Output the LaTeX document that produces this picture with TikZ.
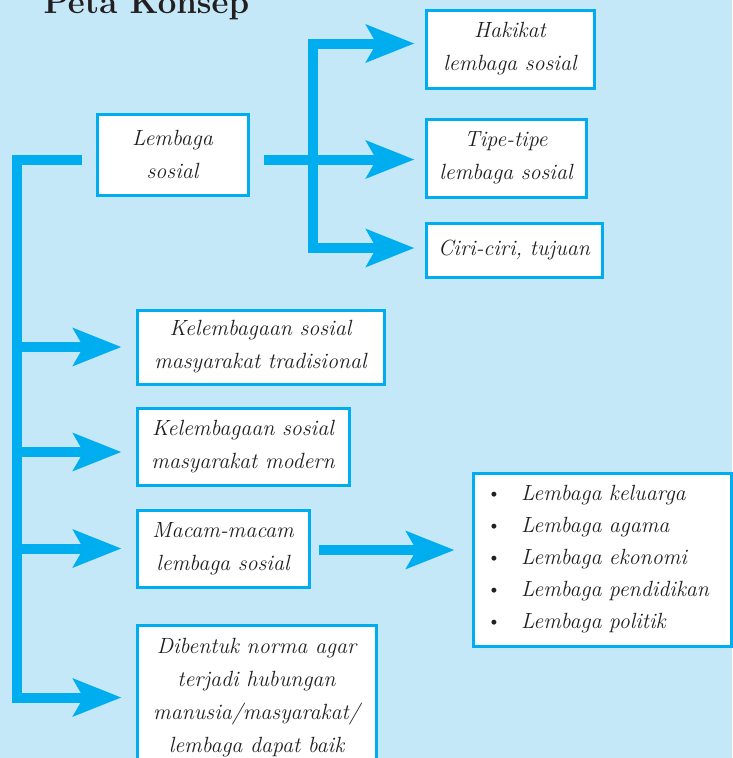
\documentclass[tikz,border=0pt]{standalone}
\usepackage{fontspec}
\usetikzlibrary{arrows.meta}
\definecolor{bgblue}{HTML}{C5E8F8}
\definecolor{arrblue}{HTML}{00AEEF}
\definecolor{txt}{HTML}{231F20}
\tikzset{
  box/.style={draw=arrblue, line width=3pt, fill=white, align=center, inner sep=0pt,
    text=txt, font=\fontsize{22}{33}\selectfont\itshape},
  arr/.style={draw=arrblue, line width=10pt, line join=miter,
    -{Stealth[length=48pt,width=37pt,inset=10pt]}},
  bar/.style={draw=arrblue, line width=10pt, line join=miter}
}
\begin{document}
\begin{tikzpicture}[x=1pt,y=-1pt]
\fill[bgblue] (0,0) rectangle (732,758);
\useasboundingbox (0,0) rectangle (732,758);
\node[anchor=base west, text=txt, font=\fontsize{33}{40}\selectfont\bfseries] (title) at (40,13) {Peta Konsep};

\node[box, minimum width=151pt, minimum height=81pt] (b1) at (172.5,154.5) {Lembaga\\sosial};
\node[box, minimum width=168pt, minimum height=78pt] (b2) at (510,49) {Hakikat\\lembaga sosial};
\node[box, minimum width=160pt, minimum height=78pt] (b3) at (506,158) {Tipe-tipe\\lembaga sosial};
\node[box, minimum width=176pt, minimum height=54pt] (b4) at (514,250) {Ciri-ciri, tujuan};
\node[box, minimum width=247pt, minimum height=74pt] (b5) at (260.5,347) {Kelembagaan sosial\\masyarakat tradisional};
\node[box, minimum width=212pt, minimum height=77pt] (b6) at (243,446.5) {Kelembagaan sosial\\masyarakat modern};
\node[box, minimum width=172pt, minimum height=77pt] (b7) at (223,548.5) {Macam-macam\\lembaga sosial};
\node[box, align=left, text width=232pt, inner xsep=13pt, minimum height=173pt, font=\fontsize{22}{32}\selectfont] (b8) at (602,559.5)
  {\makebox[35pt][l]{\textbullet}\textit{Lembaga keluarga}\\
   \makebox[35pt][l]{\textbullet}\textit{Lembaga agama}\\
   \makebox[35pt][l]{\textbullet}\textit{Lembaga ekonomi}\\
   \makebox[35pt][l]{\textbullet}\textit{Lembaga pendidikan}\\
   \makebox[35pt][l]{\textbullet}\textit{Lembaga politik}};
\node[box, minimum width=239pt, minimum height=145pt] (b9) at (256.5,697.5) {Dibentuk norma agar\\terjadi hubungan\\manusia/masyarakat/\\lembaga dapat baik};

% top tree
\coordinate (vx) at (313,0);
\coordinate (t2) at ([xshift=-10pt,yshift=5.5pt]b2.west);
\coordinate (t3) at ([xshift=-10pt,yshift=-1.5pt]b3.west);
\coordinate (t4) at ([xshift=-10pt,yshift=2pt]b4.west);
\coordinate (s3) at ([xshift=14pt]b1.east |- t3);
\draw[arr] (s3) -- (t3);
\draw[arr, {Stealth[length=48pt,width=37pt,inset=10pt]}-{Stealth[length=48pt,width=37pt,inset=10pt]}]
  (t2) -- (vx |- t2) -- (vx |- t4) -- (t4);

% left tree
\coordinate (lx) at (17,0);
\coordinate (s1) at ([xshift=-14pt,yshift=-5pt]b1.west);
\coordinate (t5) at ([xshift=-14pt]b5.west);
\coordinate (t6) at ([xshift=-14pt,yshift=-5.5pt]b6.west);
\coordinate (t7) at ([xshift=-14pt]b7.west);
\coordinate (t9) at ([xshift=-14pt]b9.west);
\draw[arr] (s1) -- (lx |- s1) -- (lx |- t9) -- (t9);
\draw[arr] (lx |- t5) -- (t5);
\draw[arr] (lx |- t6) -- (t6);
\draw[arr] (lx |- t7) -- (t7);

% list arrow
\coordinate (m1) at ([xshift=8pt,yshift=-1.5pt]b7.east);
\coordinate (b8w) at ([xshift=-17pt]b8.west);
\draw[arr] (m1) -- (b8w |- m1);
\end{tikzpicture}
\end{document}
